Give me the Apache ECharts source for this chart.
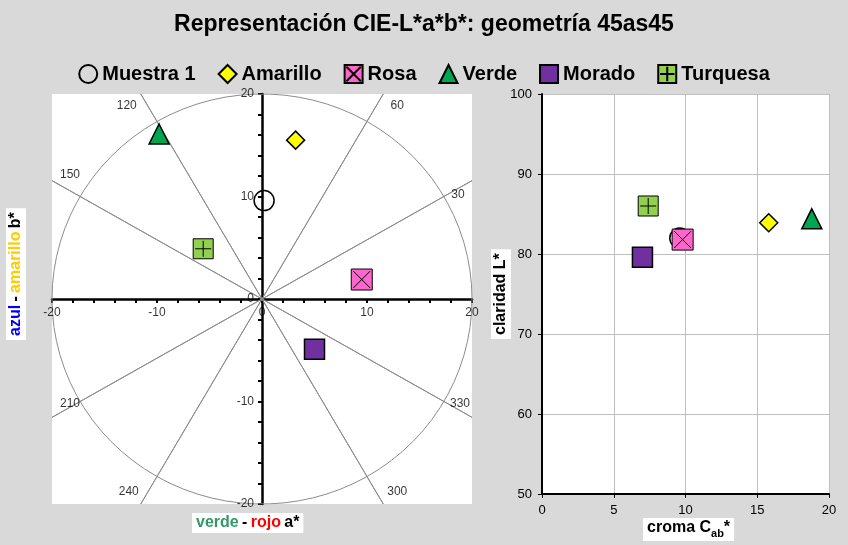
<!DOCTYPE html>
<html><head><meta charset="utf-8">
<script src="https://cdn.jsdelivr.net/npm/echarts@6/dist/echarts.min.js"></script>
<style>html,body{margin:0;background:#d9d9d9}#chart{width:848px;height:545px}</style>
</head><body><div id="chart"></div>
<script>
const myChart = echarts.init(document.getElementById("chart"));

// datos de las muestras
const names = ["Muestra 1", "Amarillo", "Rosa", "Verde", "Morado", "Turquesa"];
const aStar = [0.2, 3.2, 9.5, -9.8, 5.0, -5.6];
const bStar = [9.6, 15.5, 1.9, 16.1, -4.9, 4.9];
const chroma = [9.6, 15.8, 9.8, 18.8, 7.0, 7.4];
const lightness = [82.0, 83.9, 81.8, 84.4, 79.6, 86.0];
const hueAngles = [30, 60, 120, 150, 210, 240, 300, 330];
const abTicks = [-20, -10, 0, 10, 20];

const fills = ["#ffffff", "#ffff00", "#ff66cc", "#00a550", "#7030a0", "#92d050"];
const symbols = [
  "circle", "diamond",
  "path://M0,0H10V10H0Z M1,1L9,9 M9,1L1,9",
  "triangle", "rect",
  "path://M0,0H10V10H0Z M5,1V9 M1,5H9"
];
const sizes = [20, 18, 21, 20, 20, 20];
const borders = [1.5, 1.5, 1, 1.5, 1.5, 1];

// circulo de croma 20 y lineas de tono (geometria de referencia)
const circle = [];
for (let t = 0; t <= 360; t += 4) {
  circle.push([20 * Math.cos(t * Math.PI / 180), 20 * Math.sin(t * Math.PI / 180)]);
}
const hueLines = hueAngles.map(h => {
  const r = h * Math.PI / 180;
  const k = 20 / Math.max(Math.abs(Math.cos(r)), Math.abs(Math.sin(r)));
  return [k * Math.cos(r), k * Math.sin(r), h];
});
const labelPos = {
  30: [-14, 14], 60: [14, 12], 120: [-14, 12], 150: [18, -6],
  210: [18, -14], 240: [-12, -12], 300: [14, -12], 330: [-12, -14]
};

let series = [{
  type: "line", xAxisIndex: 0, yAxisIndex: 0, data: circle, symbol: "none",
  lineStyle: { color: "#8c8c8c", width: 1 }, silent: true, z: 1
}];
hueLines.forEach(p => {
  series.push({
    type: "line", xAxisIndex: 0, yAxisIndex: 0, symbol: "none", silent: true, z: 1,
    lineStyle: { color: "#8c8c8c", width: 1 },
    data: [[-p[0], -p[1]], [p[0], p[1]]]
  });
});
series.push({
  type: "scatter", xAxisIndex: 0, yAxisIndex: 0, symbolSize: 0, silent: true,
  data: hueLines.map(p => ({
    value: [p[0], p[1]],
    label: { show: true, formatter: String(p[2]), offset: labelPos[p[2]], color: "#000", fontSize: 12 }
  }))
});
// etiquetas de los ejes a*, b* sobre el cero
series.push({
  type: "scatter", xAxisIndex: 0, yAxisIndex: 0, symbolSize: 0, silent: true, z: 6,
  data: abTicks.map(v => [v, 0]),
  label: { show: true, position: "bottom", distance: 8, formatter: p => p.value[0], color: "#000", fontSize: 12 }
});
series.push({
  type: "scatter", xAxisIndex: 0, yAxisIndex: 0, symbolSize: 0, silent: true, z: 6,
  data: abTicks.map(v => [0, v]),
  label: { show: true, position: "left", distance: 8, formatter: p => p.value[1], color: "#000", fontSize: 12 }
});
names.forEach((n, i) => {
  const style = {
    color: fills[i], borderColor: "#000", borderWidth: borders[i],
    opacity: 1
  };
  if (i === 0) style.color = "rgba(255,255,255,0)";
  series.push({
    name: n, type: "scatter", xAxisIndex: 0, yAxisIndex: 0, z: 5,
    symbol: symbols[i], symbolSize: sizes[i], itemStyle: style,
    data: [[aStar[i], bStar[i]]]
  });
  series.push({
    name: n, type: "scatter", xAxisIndex: 1, yAxisIndex: 1, z: 5,
    symbol: symbols[i], symbolSize: sizes[i], itemStyle: style,
    data: [[chroma[i], lightness[i]]]
  });
});

let option = {
  backgroundColor: "#d9d9d9",
  animation: false,
  textStyle: { fontFamily: "Liberation Sans" },
  title: {
    text: "Representación CIE-L*a*b*: geometría 45as45",
    left: "center", top: 8,
    textStyle: { fontSize: 23, fontWeight: "bold", color: "#000", fontFamily: "Liberation Sans" }
  },
  legend: {
    top: 59, left: "center", itemGap: 22, itemWidth: 18, itemHeight: 18,
    data: names,
    textStyle: { fontSize: 20, fontWeight: "bold", color: "#000", fontFamily: "Liberation Sans" }
  },
  grid: [
    { left: 52, top: 94, width: 420, height: 410, show: true, backgroundColor: "#fff", borderWidth: 0 },
    { left: 542, top: 94, width: 287, height: 400, show: true, backgroundColor: "#fff", borderWidth: 0 }
  ],
  xAxis: [{
    gridIndex: 0, type: "value", min: -20, max: 20, interval: 10,
    axisLine: { onZero: true, lineStyle: { color: "#000", width: 2.5 } },
    axisTick: { show: true, length: 4, lineStyle: { color: "#000", width: 2 } },
    minorTick: { show: true, splitNumber: 5, length: 4, lineStyle: { color: "#000", width: 2 } },
    splitLine: { show: false },
    axisLabel: { show: false }
  }, {
    gridIndex: 1, type: "value", min: 0, max: 20, interval: 5,
    axisLine: { lineStyle: { color: "#000", width: 2 } },
    axisTick: { lineStyle: { color: "#000" }, length: 4 },
    splitLine: { lineStyle: { color: "#bfbfbf" } },
    axisLabel: { margin: 10, fontSize: 13, color: "#000" }
  }],
  yAxis: [{
    gridIndex: 0, type: "value", min: -20, max: 20, interval: 10,
    axisLine: { onZero: true, lineStyle: { color: "#000", width: 2.5 } },
    axisTick: { show: true, length: 4, lineStyle: { color: "#000", width: 2 } },
    minorTick: { show: true, splitNumber: 5, length: 4, lineStyle: { color: "#000", width: 2 } },
    splitLine: { show: false },
    axisLabel: { show: false }
  }, {
    gridIndex: 1, type: "value", min: 50, max: 100, interval: 10,
    axisLine: { show: true, lineStyle: { color: "#000", width: 2 } },
    axisTick: { show: true, lineStyle: { color: "#000" }, length: 4 },
    splitLine: { lineStyle: { color: "#bfbfbf" } },
    axisLabel: { margin: 10, fontSize: 13, color: "#000" }
  }],
  graphic: [{
    type: "text", x: 192, y: 513,
    style: {
      text: "{g|verde} {k|-} {r|rojo} {k|a*}", backgroundColor: "#fff", padding: [2, 4],
      rich: {
        g: { fill: "#339966", fontSize: 16, fontWeight: "bold" },
        r: { fill: "#ff0000", fontSize: 16, fontWeight: "bold" },
        k: { fill: "#000", fontSize: 16, fontWeight: "bold" }
      }
    }
  }, {
    type: "text", x: 6, y: 340, rotation: Math.PI / 2,
    style: {
      text: "{b|azul} {k|-} {y|amarillo} {k|b*}", backgroundColor: "#fff", padding: [2, 4],
      rich: {
        b: { fill: "#0000ff", fontSize: 16, fontWeight: "bold" },
        y: { fill: "#ffcc00", fontSize: 16, fontWeight: "bold" },
        k: { fill: "#000", fontSize: 16, fontWeight: "bold" }
      }
    }
  }, {
    type: "text", x: 491, y: 339, rotation: Math.PI / 2,
    style: {
      text: "claridad L*", backgroundColor: "#fff", padding: [2, 4],
      fill: "#000", fontSize: 16, fontWeight: "bold"
    }
  }, {
    type: "text", x: 643, y: 518,
    style: {
      text: "{k|croma C}{s|ab}{k|*}", backgroundColor: "#fff", padding: [2, 4],
      rich: {
        k: { fill: "#000", fontSize: 16, fontWeight: "bold", verticalAlign: "top" },
        s: { fill: "#000", fontSize: 11, fontWeight: "bold", padding: [8, 0, 0, 0] }
      }
    }
  }],
  series: series
};

myChart.setOption(option);
</script>
</body></html>
